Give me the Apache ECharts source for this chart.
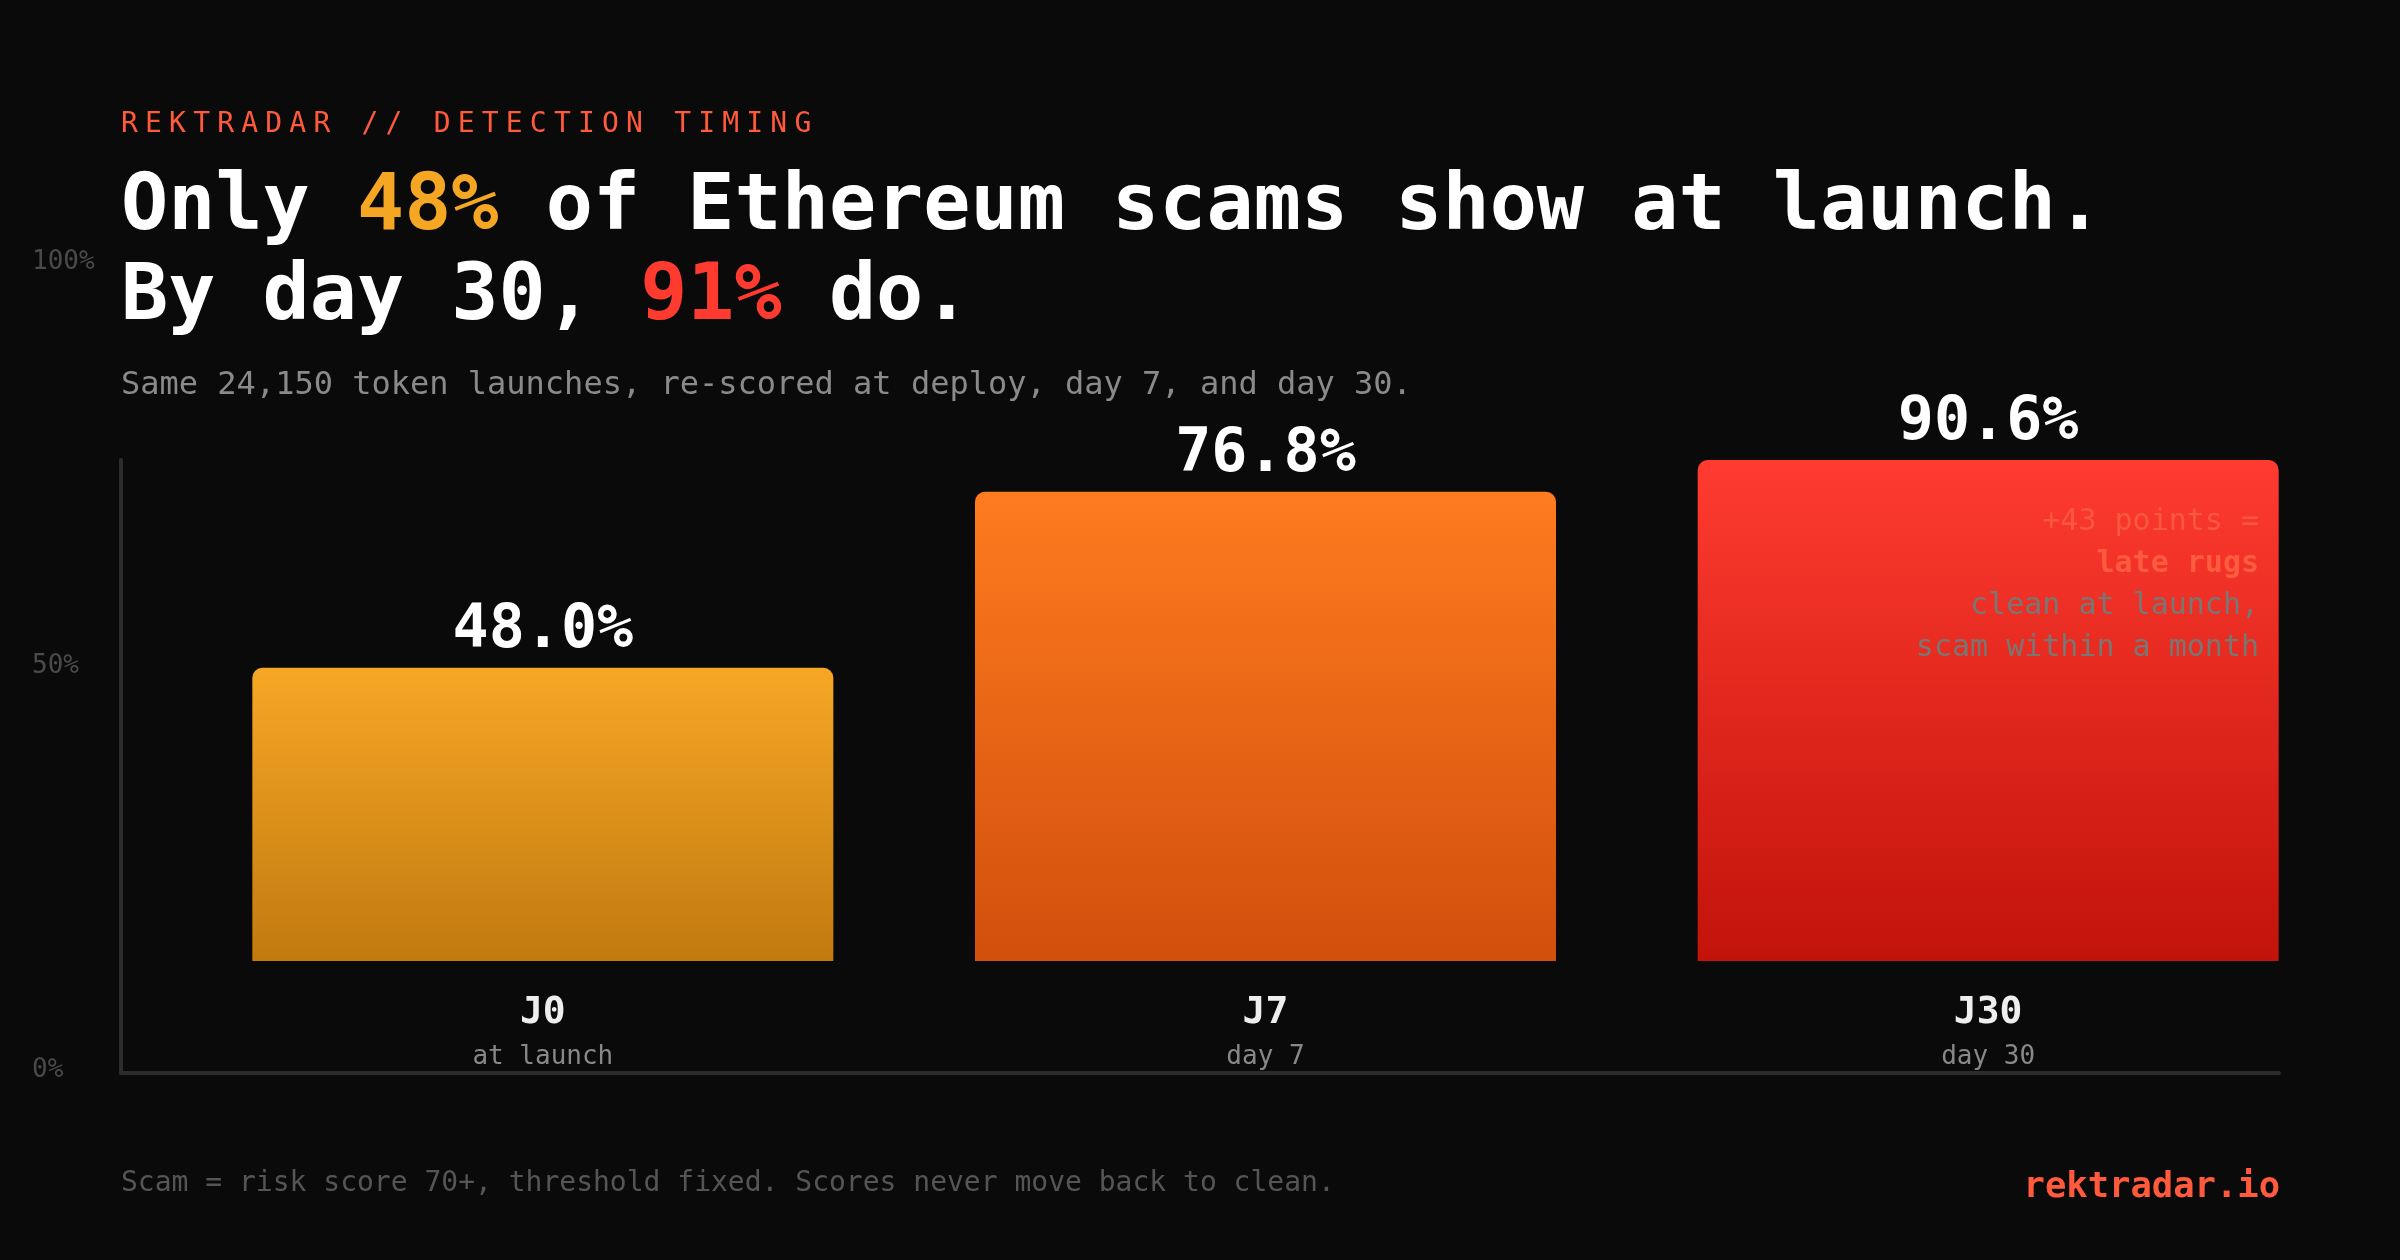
<!DOCTYPE html>
<html>
  <head>
    <meta charset="utf-8" />
    <title>RektRadar detection timing</title>
    <script src="https://cdn.jsdelivr.net/npm/echarts@6/dist/echarts.min.js"></script>
    <style type="text/css">
      html, body { margin: 0; padding: 0; background: #0a0a0a; }
      #main { width: 2400px; height: 1260px; }
    </style>
  </head>
  <body>
    <div id="main"></div>
    <script type="text/javascript">
      // data
      var categories = ["J0", "J7", "J30"];
      var subLabels = ["at launch", "day 7", "day 30"];
      var scamShare = [48.0, 76.8, 90.6];
      var scaleTicks = [0, 50, 100];
      var noteLines = ["+43 points =", "late rugs", "clean at launch,", "scam within a month"];

      // the original caps the bar area: the J30 bar is cut at the frame top
      var BAR_AXIS_MAX = 82;

      var FONT = "DejaVu Sans Mono";
      var barColors = [
        ["#f6a725", "#c27a0f"],
        ["#ff7b1f", "#d14f0c"],
        ["#ff3b30", "#c2130b"]
      ];

      var myChart = echarts.init(document.getElementById("main"));

      // eyebrow is letter-spaced: one fixed-width rich token per character
      var eyebrow = "REKTRADAR // DETECTION TIMING";
      var eyebrowRich = eyebrow.split("").map(function (ch) {
        return "{c|" + ch + "}";
      }).join("");

      var barData = scamShare.map(function (v, i) {
        return {
          value: v,
          itemStyle: {
            color: new echarts.graphic.LinearGradient(0, 0, 0, 1, [
              { offset: 0, color: barColors[i][0] },
              { offset: 1, color: barColors[i][1] }
            ])
          }
        };
      });

      var option = {
        backgroundColor: "#0a0a0a",
        animation: false,
        textStyle: { fontFamily: FONT },
        title: [
          {
            text: eyebrowRich,
            left: 121,
            top: 106.5,
            padding: 0,
            textStyle: {
              rich: {
                c: { fontFamily: FONT, fontSize: 28, fontWeight: "normal", color: "#ff5a3c", width: 24.05, lineHeight: 36 }
              }
            }
          },
          {
            text: "{w|Only }{o|48%}{w| of Ethereum scams show at launch.}\n{w|By day 30, }{r|91%}{w| do.}",
            left: 121,
            top: 164,
            padding: 0,
            textStyle: {
              rich: {
                w: { fontFamily: FONT, fontSize: 78.4, fontWeight: "bold", color: "#ffffff", lineHeight: 90 },
                o: { fontFamily: FONT, fontSize: 78.4, fontWeight: "bold", color: "#f5a623", lineHeight: 90 },
                r: { fontFamily: FONT, fontSize: 78.4, fontWeight: "bold", color: "#ff3b30", lineHeight: 90 }
              }
            }
          },
          {
            text: "Same 24,150 token launches, re-scored at deploy, day 7, and day 30.",
            left: 121,
            top: 365.5,
            padding: 0,
            textStyle: { fontFamily: FONT, fontSize: 32, fontWeight: "normal", color: "#8a8a8a", lineHeight: 40 }
          },
          {
            text: "Scam = risk score 70+, threshold fixed. Scores never move back to clean.",
            left: 121,
            top: 1166,
            padding: 0,
            textStyle: { fontFamily: FONT, fontSize: 28, fontWeight: "normal", color: "#555555", lineHeight: 36 }
          },
          {
            text: "rektradar.io",
            right: 120,
            top: 1167.5,
            padding: 0,
            textStyle: { fontFamily: FONT, fontSize: 35.5, fontWeight: "bold", color: "#ff5a3c", lineHeight: 40 }
          }
        ],
        grid: [
          // frame (left + bottom border)
          { left: 121, right: 121, top: 460, bottom: 187 },
          // percentage scale on the far left
          { left: 121, right: 121, top: 262, bottom: 190 },
          // bars
          { left: 181.5, right: 50.5, top: 460, bottom: 299 }
        ],
        xAxis: [
          {
            gridIndex: 0, type: "value", min: 0, max: 1,
            axisLine: { show: true, onZero: false, lineStyle: { color: "#2c2c2c", width: 4 } },
            axisTick: { show: false }, axisLabel: { show: false }, splitLine: { show: false }
          },
          { gridIndex: 1, type: "value", show: false },
          {
            gridIndex: 2, type: "category", data: categories,
            axisLine: { show: false }, axisTick: { show: false },
            axisLabel: {
              margin: 30,
              formatter: function (val, idx) {
                return "{a|" + val + "}\n{b|" + subLabels[idx] + "}";
              },
              rich: {
                a: { fontFamily: FONT, fontSize: 38, fontWeight: "bold", color: "#eeeeee", lineHeight: 44 },
                b: { fontFamily: FONT, fontSize: 26, color: "#888888", lineHeight: 44 }
              }
            }
          }
        ],
        yAxis: [
          {
            gridIndex: 0, type: "value", min: 0, max: 1,
            axisLine: { show: true, onZero: false, lineStyle: { color: "#2c2c2c", width: 4 } },
            axisTick: { show: false }, axisLabel: { show: false }, splitLine: { show: false }
          },
          {
            gridIndex: 1, type: "value",
            min: scaleTicks[0], max: scaleTicks[scaleTicks.length - 1], interval: scaleTicks[1] - scaleTicks[0],
            axisLine: { show: false }, axisTick: { show: false }, splitLine: { show: false },
            axisLabel: {
              formatter: "{value}%", align: "left", margin: 89,
              fontFamily: FONT, fontSize: 26, color: "#4a4a4a"
            }
          },
          { gridIndex: 2, type: "value", min: 0, max: BAR_AXIS_MAX, show: false }
        ],
        series: [
          {
            type: "bar",
            xAxisIndex: 2,
            yAxisIndex: 2,
            data: barData,
            barWidth: 581,
            clip: true,
            itemStyle: { borderRadius: [10, 10, 0, 0] },
            label: {
              show: true,
              position: "top",
              distance: 6.5,
              formatter: function (p) { return p.value.toFixed(1) + "%"; },
              fontFamily: FONT, fontSize: 60, fontWeight: "bold", color: "#ffffff"
            }
          }
        ],
        graphic: [
          {
            type: "text",
            right: 141,
            top: 507,
            z: 100,
            style: {
              text: "{p|" + noteLines[0] + "}\n{b|" + noteLines[1] + "}\n{g|" + noteLines[2] + "}\n{g|" + noteLines[3] + "}",
              align: "right",
              rich: {
                p: { fontFamily: FONT, fontSize: 30, fill: "#f9583d", lineHeight: 42, align: "right" },
                b: { fontFamily: FONT, fontSize: 30, fontWeight: "bold", fill: "#ff5b3e", lineHeight: 42, align: "right" },
                g: { fontFamily: FONT, fontSize: 30, fill: "#7a7672", lineHeight: 42, align: "right" }
              }
            }
          }
        ]
      };

      myChart.setOption(option);
    </script>
  </body>
</html>
